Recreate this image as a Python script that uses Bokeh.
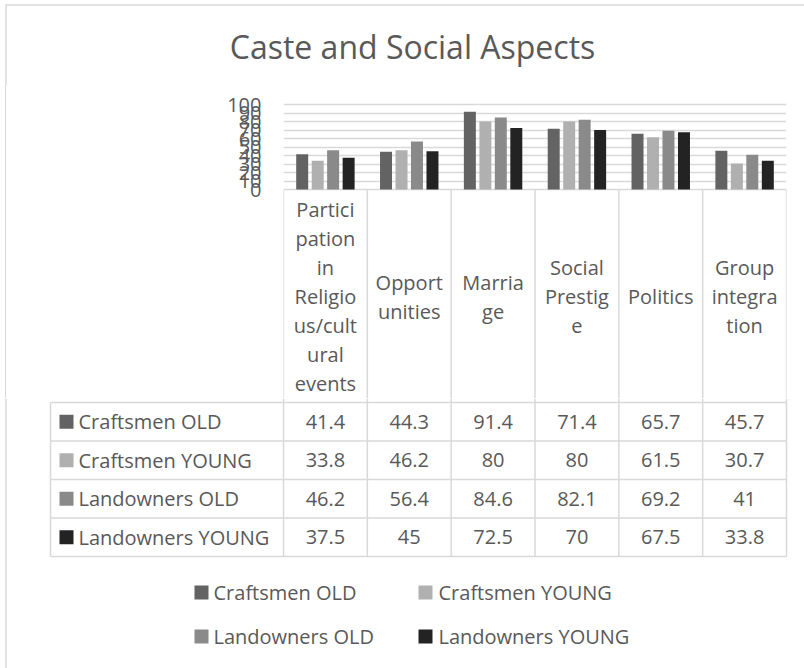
from bokeh.plotting import figure
from bokeh.models import Range1d, FactorRange, FixedTicker, ColumnDataSource
from bokeh.transform import dodge
from bokeh.layouts import column
from bokeh.embed import file_html
from bokeh.resources import INLINE
from bokeh.core.properties import value

# ---------------- data ----------------
title_text = "Caste and Social Aspects"
categories = ["Participation in Religious/cultural events", "Opportunities", "Marriage",
              "Social Prestige", "Politics", "Group integration"]
header_lines = [["Partici", "pation", "in", "Religio", "us/cult", "ural", "events"],
                ["Opport", "unities"],
                ["Marria", "ge"],
                ["Social", "Prestig", "e"],
                ["Politics"],
                ["Group", "integra", "tion"]]
series_names = ["Craftsmen OLD", "Craftsmen YOUNG", "Landowners OLD", "Landowners YOUNG"]
craftsmen_old = [41.4, 44.3, 91.4, 71.4, 65.7, 45.7]
craftsmen_young = [33.8, 46.2, 80, 80, 61.5, 30.7]
landowners_old = [46.2, 56.4, 84.6, 82.1, 69.2, 41]
landowners_young = [37.5, 45, 72.5, 70, 67.5, 33.8]
y_ticks = [0, 10, 20, 30, 40, 50, 60, 70, 80, 90, 100]

series_values = [craftsmen_old, craftsmen_young, landowners_old, landowners_young]
colors = ["#636363", "#b0b0b0", "#8a8a8a", "#232323"]
offsets = [-0.277, -0.092, 0.092, 0.277]
BAR_W = 0.143

TEXT = "#595959"
GRID = "#d9d9d9"
FONT = value("Open Sans")
W = 804
BORDER_X = 5.5

# layout constants (pixels from the top-left of the page)
T_H = 86            # title strip height
FRAME_TOP = 102     # top of bar frame
ZERO_Y = 189        # pixel row of value 0
PX_PER_UNIT = 0.85  # pixels per value unit
A_BOTTOM = 398      # bottom of bar/header figure
TABLE_LEFT = 50
COL0 = 283
COL_RIGHT = 786
COL_W = (COL_RIGHT - COL0) / 6
HEADER_MID = 296
HEADER_BOTTOM = 402
ROW_H = 38.5
LINE_H = 29


def px_to_val(py):
    return (ZERO_Y - py) / PX_PER_UNIT


# ---------------- title ----------------
pT = figure(width=W, height=T_H, x_range=Range1d(0, W), y_range=Range1d(T_H, 0),
            output_backend="svg", toolbar_location=None, frame_align=False,
            x_axis_location=None, y_axis_location=None, min_border=0)
pT.grid.visible = False
pT.outline_line_color = None
pT.text(x=[412], y=[46], text=[title_text], text_align="center", text_baseline="middle",
        text_font=FONT, text_font_size="32px", text_color=TEXT)
pT.segment(x0=[BORDER_X], x1=[BORDER_X], y0=[4], y1=[T_H], line_color=GRID, line_width=1.5)
pT.segment(x0=[5], x1=[W], y0=[4.5], y1=[4.5], line_color=GRID, line_width=1.5)

# ---------------- bars + category header ----------------
A_H = A_BOTTOM - T_H
y_start, y_end = px_to_val(A_BOTTOM), px_to_val(FRAME_TOP)
pA = figure(width=W, height=A_H, x_range=FactorRange(factors=categories),
            y_range=Range1d(y_start, y_end), frame_align=False,
            output_backend="svg", toolbar_location=None, x_axis_location=None,
            min_border_left=COL0, min_border_right=W - COL_RIGHT,
            min_border_top=FRAME_TOP - T_H, min_border_bottom=0,
            border_fill_color=None, background_fill_color="white",
            styles={"background": "linear-gradient(to right, white 5px, %s 5px, %s 6px, white 6px)" % (GRID, GRID)})
pA.outline_line_color = None
pA.xgrid.visible = False
pA.yaxis.ticker = FixedTicker(ticks=y_ticks)
pA.ygrid.ticker = FixedTicker(ticks=y_ticks)
pA.ygrid.grid_line_color = GRID
pA.ygrid.grid_line_width = 1.3
pA.yaxis.axis_line_color = None
pA.yaxis.major_tick_line_color = None
pA.yaxis.minor_tick_line_color = None
pA.yaxis.major_tick_out = 0
pA.yaxis.major_tick_in = 0
pA.yaxis.major_label_standoff = 22
pA.yaxis.major_label_text_font = "Open Sans"
pA.yaxis.major_label_text_font_size = "20px"
pA.yaxis.major_label_text_color = TEXT

src = ColumnDataSource(dict(cat=categories, s0=craftsmen_old, s1=craftsmen_young,
                            s2=landowners_old, s3=landowners_young))
for i in range(4):
    pA.vbar(x=dodge("cat", offsets[i], range=pA.x_range), top="s%d" % i, bottom=0,
            width=BAR_W, source=src, fill_color=colors[i], line_color=None)

# table column separators in the header area
pA.segment(x0=dodge("cat", -0.5, range=pA.x_range), x1=dodge("cat", -0.5, range=pA.x_range),
           y0=0, y1=y_start, source=src, line_color=GRID, line_width=1.5)
pA.segment(x0=dodge("cat", 0.5, range=pA.x_range), x1=dodge("cat", 0.5, range=pA.x_range),
           y0=0, y1=y_start, source=ColumnDataSource(dict(cat=[categories[-1]])),
           line_color=GRID, line_width=1.5)

# category header labels (wrapped like the original)
hc, hyy, ht = [], [], []
for j, lines in enumerate(header_lines):
    n = len(lines)
    for i, t in enumerate(lines):
        hc.append(categories[j])
        hyy.append(px_to_val(HEADER_MID + (i - (n - 1) / 2) * LINE_H))
        ht.append(t)
pA.text(x="cat", y="y", text="t", source=ColumnDataSource(dict(cat=hc, y=hyy, t=ht)),
        text_align="center", text_baseline="middle",
        text_font=FONT, text_font_size="20px", text_color=TEXT)

# ---------------- data table + legend ----------------
B_H = 668 - A_BOTTOM
pB = figure(width=W, height=B_H, x_range=Range1d(0, W), y_range=Range1d(668, A_BOTTOM),
            output_backend="svg", toolbar_location=None, frame_align=False,
            x_axis_location=None, y_axis_location=None, min_border=0)
pB.grid.visible = False
pB.outline_line_color = None

ncat = len(categories)
nser = len(series_names)
table_right = COL0 + ncat * COL_W
table_bottom = HEADER_BOTTOM + nser * ROW_H

vx = [COL0 + k * COL_W for k in range(ncat + 1)]
pB.segment(x0=vx, x1=vx, y0=[A_BOTTOM] * len(vx), y1=[table_bottom] * len(vx),
           line_color=GRID, line_width=1.5)
pB.segment(x0=[TABLE_LEFT], x1=[TABLE_LEFT], y0=[HEADER_BOTTOM], y1=[table_bottom],
           line_color=GRID, line_width=1.5)
hy = [HEADER_BOTTOM + r * ROW_H for r in range(nser + 1)]
pB.segment(x0=[TABLE_LEFT] * len(hy), x1=[table_right] * len(hy), y0=hy, y1=hy,
           line_color=GRID, line_width=1.5)
pB.segment(x0=[BORDER_X], x1=[BORDER_X], y0=[A_BOTTOM], y1=[668], line_color=GRID, line_width=1.5)

# values
vxs, vys, vts = [], [], []
for r, vals in enumerate(series_values):
    for j, v in enumerate(vals):
        vxs.append(COL0 + (j + 0.5) * COL_W)
        vys.append(HEADER_BOTTOM + (r + 0.5) * ROW_H)
        vts.append(f"{v:g}")
pB.text(x=vxs, y=vys, text=vts, text_align="center", text_baseline="middle",
        text_font=FONT, text_font_size="20px", text_color=TEXT)

# row labels with swatches
row_y = [HEADER_BOTTOM + (r + 0.5) * ROW_H for r in range(nser)]
pB.rect(x=[66] * nser, y=row_y, width=14, height=14, width_units="screen",
        height_units="screen", fill_color=colors, line_color=None)
pB.text(x=[78] * nser, y=row_y, text=series_names, text_align="left", text_baseline="middle",
        text_font=FONT, text_font_size="20px", text_color=TEXT)

# legend
leg_sw_x = [201, 425, 201, 425]
leg_tx = [213, 438, 213, 438]
leg_y = [592, 592, 636, 636]
pB.rect(x=leg_sw_x, y=leg_y, width=14, height=14, width_units="screen",
        height_units="screen", fill_color=colors, line_color=None)
pB.text(x=leg_tx, y=leg_y, text=series_names, text_align="left", text_baseline="middle",
        text_font=FONT, text_font_size="20px", text_color=TEXT)

layout = column(pT, pA, pB, spacing=0)
open("out.html", "w").write(file_html(layout, INLINE))
